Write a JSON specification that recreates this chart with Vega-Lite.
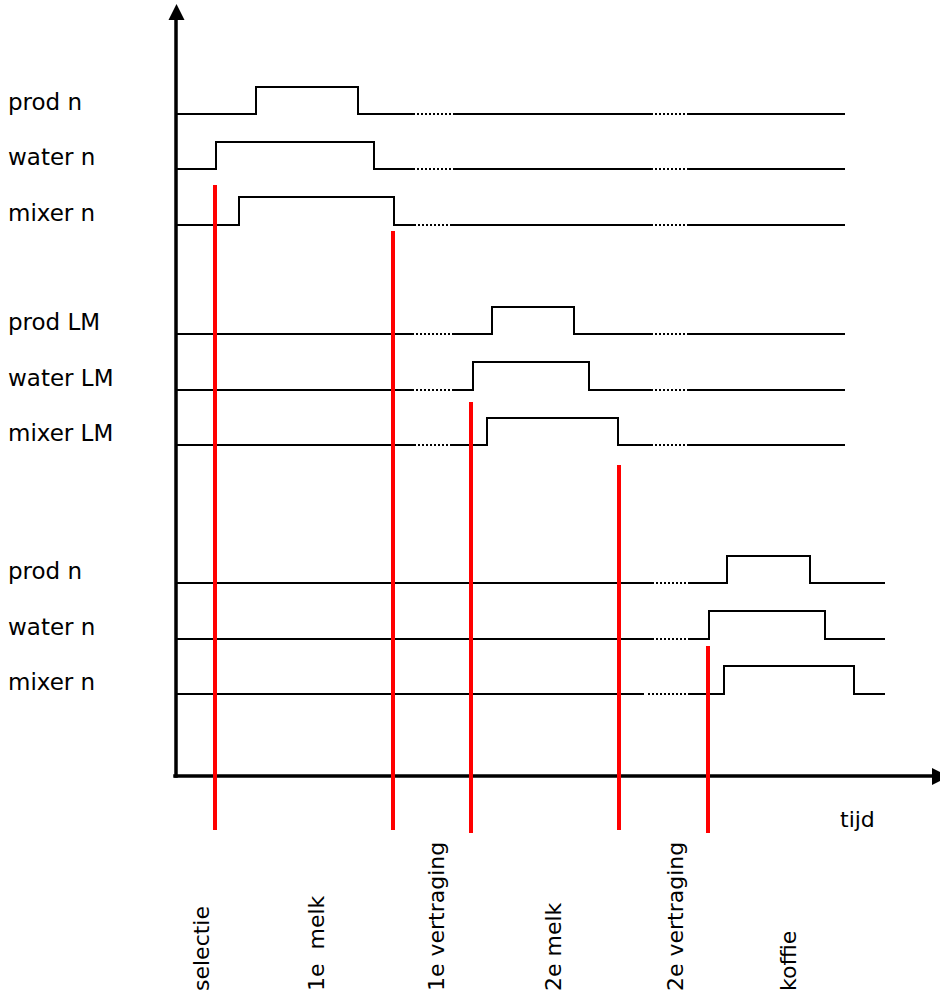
{
  "$schema": "https://vega.github.io/schema/vega-lite/v6.json",
  "width": 940,
  "height": 993,
  "padding": 0,
  "autosize": {"type": "none"},
  "background": "white",
  "config": {"view": {"stroke": null}},
  "datasets": {
    "signals": [
      {"s": "r1a", "i": 1, "x": 177, "y": 114}, {"s": "r1a", "i": 2, "x": 256, "y": 114}, {"s": "r1a", "i": 3, "x": 256, "y": 87}, {"s": "r1a", "i": 4, "x": 358, "y": 87}, {"s": "r1a", "i": 5, "x": 358, "y": 114}, {"s": "r1a", "i": 6, "x": 413, "y": 114},
      {"s": "r1b", "i": 1, "x": 453, "y": 114}, {"s": "r1b", "i": 2, "x": 651, "y": 114},
      {"s": "r1c", "i": 1, "x": 688, "y": 114}, {"s": "r1c", "i": 2, "x": 845, "y": 114},
      {"s": "r2a", "i": 1, "x": 177, "y": 169}, {"s": "r2a", "i": 2, "x": 216, "y": 169}, {"s": "r2a", "i": 3, "x": 216, "y": 142}, {"s": "r2a", "i": 4, "x": 374, "y": 142}, {"s": "r2a", "i": 5, "x": 374, "y": 169}, {"s": "r2a", "i": 6, "x": 413, "y": 169},
      {"s": "r2b", "i": 1, "x": 453, "y": 169}, {"s": "r2b", "i": 2, "x": 651, "y": 169},
      {"s": "r2c", "i": 1, "x": 688, "y": 169}, {"s": "r2c", "i": 2, "x": 845, "y": 169},
      {"s": "r3a", "i": 1, "x": 177, "y": 225}, {"s": "r3a", "i": 2, "x": 239, "y": 225}, {"s": "r3a", "i": 3, "x": 239, "y": 197}, {"s": "r3a", "i": 4, "x": 394, "y": 197}, {"s": "r3a", "i": 5, "x": 394, "y": 225}, {"s": "r3a", "i": 6, "x": 414, "y": 225},
      {"s": "r3b", "i": 1, "x": 452, "y": 225}, {"s": "r3b", "i": 2, "x": 651, "y": 225},
      {"s": "r3c", "i": 1, "x": 688, "y": 225}, {"s": "r3c", "i": 2, "x": 845, "y": 225},
      {"s": "r4a", "i": 1, "x": 177, "y": 334}, {"s": "r4a", "i": 2, "x": 412, "y": 334},
      {"s": "r4b", "i": 1, "x": 453, "y": 334}, {"s": "r4b", "i": 2, "x": 492, "y": 334}, {"s": "r4b", "i": 3, "x": 492, "y": 307}, {"s": "r4b", "i": 4, "x": 574, "y": 307}, {"s": "r4b", "i": 5, "x": 574, "y": 334}, {"s": "r4b", "i": 6, "x": 651, "y": 334},
      {"s": "r4c", "i": 1, "x": 688, "y": 334}, {"s": "r4c", "i": 2, "x": 845, "y": 334},
      {"s": "r5a", "i": 1, "x": 177, "y": 390}, {"s": "r5a", "i": 2, "x": 412, "y": 390},
      {"s": "r5b", "i": 1, "x": 453, "y": 390}, {"s": "r5b", "i": 2, "x": 473, "y": 390}, {"s": "r5b", "i": 3, "x": 473, "y": 362}, {"s": "r5b", "i": 4, "x": 589, "y": 362}, {"s": "r5b", "i": 5, "x": 589, "y": 390}, {"s": "r5b", "i": 6, "x": 651, "y": 390},
      {"s": "r5c", "i": 1, "x": 688, "y": 390}, {"s": "r5c", "i": 2, "x": 845, "y": 390},
      {"s": "r6a", "i": 1, "x": 177, "y": 445}, {"s": "r6a", "i": 2, "x": 414, "y": 445},
      {"s": "r6b", "i": 1, "x": 452, "y": 445}, {"s": "r6b", "i": 2, "x": 487, "y": 445}, {"s": "r6b", "i": 3, "x": 487, "y": 418}, {"s": "r6b", "i": 4, "x": 618, "y": 418}, {"s": "r6b", "i": 5, "x": 618, "y": 445}, {"s": "r6b", "i": 6, "x": 651, "y": 445},
      {"s": "r6c", "i": 1, "x": 688, "y": 445}, {"s": "r6c", "i": 2, "x": 845, "y": 445},
      {"s": "r7a", "i": 1, "x": 177, "y": 583}, {"s": "r7a", "i": 2, "x": 652, "y": 583},
      {"s": "r7b", "i": 1, "x": 689, "y": 583}, {"s": "r7b", "i": 2, "x": 727, "y": 583}, {"s": "r7b", "i": 3, "x": 727, "y": 556}, {"s": "r7b", "i": 4, "x": 810, "y": 556}, {"s": "r7b", "i": 5, "x": 810, "y": 583}, {"s": "r7b", "i": 6, "x": 885, "y": 583},
      {"s": "r8a", "i": 1, "x": 177, "y": 639}, {"s": "r8a", "i": 2, "x": 652, "y": 639},
      {"s": "r8b", "i": 1, "x": 689, "y": 639}, {"s": "r8b", "i": 2, "x": 709, "y": 639}, {"s": "r8b", "i": 3, "x": 709, "y": 611}, {"s": "r8b", "i": 4, "x": 825, "y": 611}, {"s": "r8b", "i": 5, "x": 825, "y": 639}, {"s": "r8b", "i": 6, "x": 885, "y": 639},
      {"s": "r9a", "i": 1, "x": 177, "y": 694}, {"s": "r9a", "i": 2, "x": 644, "y": 694},
      {"s": "r9b", "i": 1, "x": 689, "y": 694}, {"s": "r9b", "i": 2, "x": 724, "y": 694}, {"s": "r9b", "i": 3, "x": 724, "y": 666}, {"s": "r9b", "i": 4, "x": 854, "y": 666}, {"s": "r9b", "i": 5, "x": 854, "y": 694}, {"s": "r9b", "i": 6, "x": 885, "y": 694}
    ],
    "dots": [
      {"x": 413, "x2": 453, "y": 114}, {"x": 651, "x2": 688, "y": 114},
      {"x": 413, "x2": 453, "y": 169}, {"x": 651, "x2": 688, "y": 169},
      {"x": 414, "x2": 452, "y": 225}, {"x": 651, "x2": 688, "y": 225},
      {"x": 412, "x2": 453, "y": 334}, {"x": 651, "x2": 688, "y": 334},
      {"x": 412, "x2": 453, "y": 390}, {"x": 651, "x2": 688, "y": 390},
      {"x": 414, "x2": 452, "y": 445}, {"x": 651, "x2": 688, "y": 445},
      {"x": 652, "x2": 689, "y": 583}, {"x": 652, "x2": 689, "y": 639},
      {"x": 648, "x2": 689, "y": 694}
    ],
    "markers": [
      {"x": 215, "y": 185, "y2": 830},
      {"x": 393, "y": 231, "y2": 830},
      {"x": 471, "y": 402, "y2": 833},
      {"x": 619, "y": 465, "y2": 830},
      {"x": 708, "y": 646, "y2": 833}
    ],
    "axes": [
      {"x": 176, "x2": 176, "y": 776, "y2": 18},
      {"x": 175, "x2": 934, "y": 776, "y2": 776}
    ],
    "arrowUp": [{"x": 176.5, "y": 12}],
    "arrowRight": [{"x": 940.5, "y": 776.5}],
    "rowLabels": [
      {"t": "prod n", "x": 8, "y": 110},
      {"t": "water n", "x": 8, "y": 165},
      {"t": "mixer n", "x": 8, "y": 221},
      {"t": "prod LM", "x": 8, "y": 330},
      {"t": "water LM", "x": 8, "y": 386},
      {"t": "mixer LM", "x": 8, "y": 441},
      {"t": "prod n", "x": 8, "y": 579},
      {"t": "water n", "x": 8, "y": 635},
      {"t": "mixer n", "x": 8, "y": 690}
    ],
    "phaseLabels": [
      {"t": "selectie", "x": 202, "y": 991},
      {"t": "1e \u00a0melk", "x": 317, "y": 991},
      {"t": "1e vertraging", "x": 437, "y": 991},
      {"t": "2e melk", "x": 554, "y": 991},
      {"t": "2e vertraging", "x": 676, "y": 991},
      {"t": "koffie", "x": 789, "y": 991}
    ],
    "axisLabel": [{"t": "tijd", "x": 840, "y": 827}]
  },
  "encoding": {
    "x": {"field": "x", "type": "quantitative", "scale": {"domain": [0, 940], "nice": false, "zero": false}, "axis": null},
    "y": {"field": "y", "type": "quantitative", "scale": {"domain": [0, 993], "nice": false, "zero": false, "reverse": true}, "axis": null}
  },
  "layer": [
    {
      "data": {"name": "signals"},
      "mark": {"type": "line", "color": "black", "strokeWidth": 2, "strokeJoin": "miter", "strokeCap": "butt"},
      "encoding": {
        "detail": {"field": "s", "type": "nominal"},
        "order": {"field": "i", "type": "quantitative"}
      }
    },
    {
      "data": {"name": "dots"},
      "mark": {"type": "rule", "color": "black", "strokeWidth": 2, "strokeDash": [2, 2], "strokeCap": "butt"},
      "encoding": {"x2": {"field": "x2"}}
    },
    {
      "data": {"name": "axes"},
      "mark": {"type": "rule", "color": "black", "strokeWidth": 3.5, "strokeCap": "square"},
      "encoding": {"x2": {"field": "x2"}, "y2": {"field": "y2"}}
    },
    {
      "data": {"name": "markers"},
      "mark": {"type": "rule", "color": "#ff0000", "strokeWidth": 4, "strokeCap": "butt"},
      "encoding": {"y2": {"field": "y2"}}
    },
    {
      "data": {"name": "arrowUp"},
      "mark": {"type": "point", "shape": "M0,-1L-1,1L1,1Z", "size": 256, "filled": true, "color": "black", "opacity": 1, "strokeWidth": 0}
    },
    {
      "data": {"name": "arrowRight"},
      "mark": {"type": "point", "shape": "M1,0L-1,-1L-1,1Z", "size": 289, "filled": true, "color": "black", "opacity": 1, "strokeWidth": 0}
    },
    {
      "data": {"name": "rowLabels"},
      "mark": {"type": "text", "align": "left", "baseline": "alphabetic", "font": "DejaVu Sans", "fontSize": 23, "color": "black"},
      "encoding": {"text": {"field": "t"}}
    },
    {
      "data": {"name": "phaseLabels"},
      "mark": {"type": "text", "align": "left", "baseline": "middle", "angle": 270, "font": "DejaVu Sans", "fontSize": 22, "color": "black"},
      "encoding": {"text": {"field": "t"}}
    },
    {
      "data": {"name": "axisLabel"},
      "mark": {"type": "text", "align": "left", "baseline": "alphabetic", "font": "DejaVu Sans", "fontSize": 22, "color": "black"},
      "encoding": {"text": {"field": "t"}}
    }
  ]
}
